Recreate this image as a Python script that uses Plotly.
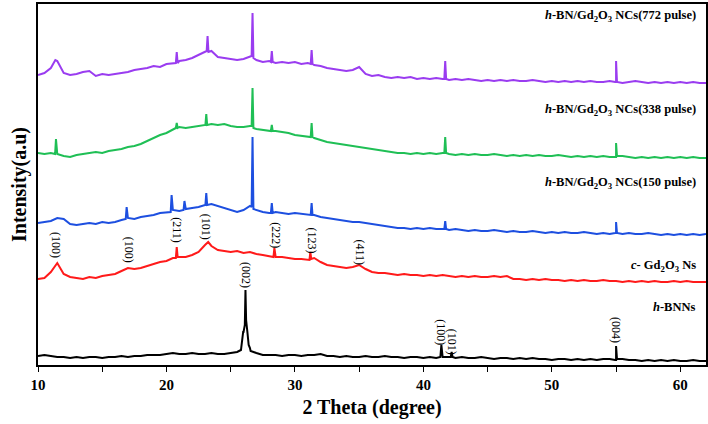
import plotly.graph_objects as go

# ---------------- data (intensity in arbitrary units, offset per pattern) ----------------
two_theta = [10.0, 10.5, 11.0, 11.5, 12.0, 12.5, 13.0, 13.5, 14.0, 14.5,
             15.0, 15.5, 16.0, 16.5, 17.0, 17.5, 18.0, 18.5, 19.0, 19.5,
             20.0, 20.5, 21.0, 21.5, 22.0, 22.5, 23.0, 23.5, 24.0, 24.5,
             25.0, 25.5, 26.0, 26.5, 27.0, 27.5, 28.0, 28.5, 29.0, 29.5,
             30.0, 30.5, 31.0, 31.5, 32.0, 32.5, 33.0, 33.5, 34.0, 34.5,
             35.0, 35.5, 36.0, 36.5, 37.0, 37.5, 38.0, 38.5, 39.0, 39.5,
             40.0, 40.5, 41.0, 41.5, 42.0, 42.5, 43.0, 43.5, 44.0, 44.5,
             45.0, 45.5, 46.0, 46.5, 47.0, 47.5, 48.0, 48.5, 49.0, 49.5,
             50.0, 50.5, 51.0, 51.5, 52.0, 52.5, 53.0, 53.5, 54.0, 54.5,
             55.0, 55.5, 56.0, 56.5, 57.0, 57.5, 58.0, 58.5, 59.0, 59.5,
             60.0, 60.5, 61.0, 61.5, 62.0]

p772 = [290, 292, 297, 304, 292, 290, 291, 293, 294, 289,
        291, 290, 291, 292, 293, 295, 296, 297, 299, 298,
        301, 302, 304, 305, 307, 310, 313, 314, 308, 307,
        306, 305, 306, 309, 305, 303, 304, 302, 303, 302,
        303, 301, 302, 300, 299, 297, 296, 295, 294, 295,
        298, 291, 289, 290, 288, 287, 288, 287, 288, 286,
        287, 286, 287, 286, 285, 286, 285, 286, 285, 284,
        285, 284, 285, 284, 285, 284, 284, 285, 284, 283,
        284, 283, 284, 283, 284, 283, 284, 283, 283, 284,
        283, 282, 283, 284, 283, 282, 283, 282, 283, 282,
        283, 282, 283, 282, 282]
p772_peak_x = [11.35, 20.73, 20.8, 20.87, 23.13, 23.2, 23.27, 26.63, 26.7, 26.77,
               28.13, 28.2, 28.27, 31.23, 31.3, 31.37, 41.63, 41.7, 41.77, 54.93, 55.0, 55.07]
p772_peak_y = [305, 302, 313, 302, 314, 329, 313, 309, 352, 307,
               303, 314, 303, 301, 315, 301, 286, 304, 286, 283, 304, 283]

p338 = [212, 211, 212, 211, 209, 208, 210, 211, 212, 213,
        212, 214, 215, 216, 218, 219, 221, 224, 227, 230,
        232, 236, 238, 237, 238, 239, 240, 241, 240, 241,
        239, 238, 238, 239, 236, 235, 234, 234, 233, 232,
        230, 229, 228, 227, 225, 223, 222, 221, 220, 219,
        218, 217, 216, 215, 214, 213, 212, 212, 211, 212,
        211, 212, 211, 212, 211, 210, 211, 210, 211, 210,
        210, 211, 210, 209, 210, 209, 210, 209, 210, 209,
        209, 210, 209, 208, 209, 208, 209, 208, 209, 208,
        208, 209, 208, 207, 208, 207, 208, 207, 208, 207,
        208, 207, 208, 207, 207]
p338_peak_x = [11.33, 11.4, 11.47, 20.73, 20.8, 20.87, 23.03, 23.1, 23.17, 26.63, 26.7, 26.77,
               28.13, 28.2, 28.27, 31.23, 31.3, 31.37, 41.63, 41.7, 41.77, 54.93, 55.0, 55.07]
p338_peak_y = [211, 226, 211, 237, 242, 237, 240, 251, 240, 239, 277, 237,
               234, 240, 234, 228, 242, 228, 212, 228, 212, 208, 222, 209]

p150 = [142, 143, 144, 147, 146, 141, 140, 141, 142, 141,
        143, 142, 143, 145, 147, 146, 148, 149, 150, 152,
        153, 155, 154, 156, 157, 158, 160, 161, 159, 157,
        155, 153, 155, 159, 155, 153, 152, 153, 152, 151,
        152, 151, 150, 150, 148, 147, 146, 145, 144, 143,
        143, 142, 141, 140, 139, 138, 137, 137, 136, 137,
        136, 137, 136, 136, 135, 136, 135, 134, 135, 134,
        134, 135, 134, 133, 134, 133, 133, 134, 133, 132,
        133, 132, 133, 132, 132, 133, 132, 131, 132, 131,
        132, 131, 132, 131, 131, 132, 131, 130, 131, 130,
        131, 130, 131, 130, 131]
p150_peak_x = [16.83, 16.9, 16.97, 20.33, 20.4, 20.47, 21.33, 21.4, 21.47, 23.03, 23.1, 23.17,
               26.63, 26.7, 26.77, 28.13, 28.2, 28.27, 31.23, 31.3, 31.37,
               41.63, 41.7, 41.77, 54.93, 55.0, 55.07]
p150_peak_y = [146, 158, 147, 153, 170, 155, 155, 164, 156, 160, 172, 160,
               158, 228, 156, 152, 162, 152, 150, 162, 150,
               136, 144, 136, 132, 143, 132]

gd2o3 = [86, 87, 93, 102, 91, 88, 87, 86, 88, 87,
         89, 90, 91, 94, 97, 96, 97, 99, 101, 103,
         104, 107, 108, 108, 110, 113, 120, 119, 115, 114,
         113, 114, 112, 113, 111, 110, 109, 108, 108, 107,
         106, 106, 105, 107, 103, 100, 99, 98, 97, 98,
         100, 96, 93, 92, 92, 91, 90, 91, 90, 90,
         89, 90, 89, 90, 89, 88, 89, 88, 89, 88,
         88, 89, 88, 89, 86, 86, 85, 86, 85, 86,
         85, 85, 84, 85, 84, 85, 84, 84, 85, 84,
         84, 83, 84, 83, 84, 83, 84, 83, 83, 84,
         83, 84, 83, 83, 83]
gd2o3_peak_x = [20.73, 20.8, 20.87, 23.25, 28.33, 28.4, 28.47, 31.13, 31.2, 31.27]
gd2o3_peak_y = [107, 118, 108, 123, 108, 117, 108, 105, 113, 106]

bnns = [9, 10, 9, 8, 8, 7, 8, 7, 8, 8,
        7, 8, 8, 9, 8, 9, 9, 10, 10, 10,
        11, 12, 11, 11, 12, 11, 11, 12, 11, 11,
        12, 13, 33, 17, 12, 10, 10, 10, 9, 10,
        10, 9, 10, 10, 11, 9, 9, 8, 9, 8,
        8, 9, 8, 8, 9, 8, 8, 7, 8, 8,
        7, 8, 7, 8, 8, 7, 8, 7, 7, 8,
        7, 6, 7, 7, 6, 7, 6, 7, 6, 6,
        5, 6, 6, 5, 6, 5, 6, 5, 6, 6,
        5, 6, 5, 5, 4, 5, 4, 5, 4, 5,
        4, 4, 5, 4, 4]
bnns_peak_x = [25.8, 25.9, 25.97, 26.1, 26.15, 26.2, 26.3, 26.4, 26.55,
               41.32, 41.4, 41.48, 42.13, 42.2, 42.27, 54.93, 55.0, 55.07]
bnns_peak_y = [15, 30, 33, 40, 75, 45, 33, 20, 14,
               8, 20, 8, 8, 13, 8, 5, 19, 6]

series = [
    ("h-BNNs", bnns, bnns_peak_x, bnns_peak_y, "#000000"),
    ("c-Gd2O3 Ns", gd2o3, gd2o3_peak_x, gd2o3_peak_y, "#ff1a1a"),
    ("150 pulse", p150, p150_peak_x, p150_peak_y, "#1d4fe0"),
    ("338 pulse", p338, p338_peak_x, p338_peak_y, "#1fbf55"),
    ("772 pulse", p772, p772_peak_x, p772_peak_y, "#9a3cf0"),
]

sample_labels = ["<b><i>h</i>-BN/Gd<sub>2</sub>O<sub>3</sub> NCs(772 pulse)</b>",
                 "<b><i>h</i>-BN/Gd<sub>2</sub>O<sub>3</sub> NCs(338 pulse)</b>",
                 "<b><i>h</i>-BN/Gd<sub>2</sub>O<sub>3</sub> NCs(150 pulse)</b>",
                 "<b><i>c</i>- Gd<sub>2</sub>O<sub>3</sub> Ns</b>",
                 "<b><i>h</i>-BNNs</b>"]
sample_label_y = [349, 255, 182, 99, 58]

hkl_text = ["(100)", "(100)", "(211)", "(101)", "(222)", "(123)", "(411)",
            "(002)", "(100)", "(101)", "(004)"]
hkl_x = [11.4, 17.1, 20.8, 23.1, 28.5, 31.3, 35.1, 26.2, 41.35, 42.25, 55.0]
hkl_y = [120, 115, 135, 138, 130, 125, 112, 90, 33, 23, 35]

# ---------------- figure ----------------
FONT = "Liberation Serif, Times New Roman, serif"
fig = go.Figure()
for name, base, px_, py_, color in series:
    pts = sorted(list(zip(two_theta, base)) + list(zip(px_, py_)))
    fig.add_trace(go.Scatter(x=[p[0] for p in pts], y=[p[1] for p in pts],
                             mode="lines", name=name,
                             line=dict(color=color, width=2)))

for txt, yy in zip(sample_labels, sample_label_y):
    fig.add_annotation(x=61.4, y=yy, xref="x", yref="y", text=txt,
                       showarrow=False, xanchor="right", yanchor="middle",
                       font=dict(family=FONT, size=12.5, color="black"))

for txt, xx, yy in zip(hkl_text, hkl_x, hkl_y):
    fig.add_annotation(x=xx, y=yy, xref="x", yref="y", text=txt, textangle=90,
                       showarrow=False, xanchor="center", yanchor="middle",
                       font=dict(family=FONT, size=12, color="black"))

fig.update_layout(
    width=708, height=424,
    margin=dict(l=38, r=2, t=4, b=59),
    plot_bgcolor="white", paper_bgcolor="white",
    showlegend=False,
    font=dict(family=FONT, color="black"),
)
fig.update_xaxes(
    range=[10, 62], showgrid=False, zeroline=False, automargin=False,
    showline=True, linecolor="black", linewidth=1.5, mirror=True,
    tick0=10, dtick=10, ticks="outside", ticklen=5, tickwidth=1.2, tickcolor="black",
    minor=dict(dtick=5, ticks="outside", ticklen=5, tickwidth=1.2, tickcolor="black"),
    tickfont=dict(family=FONT, size=15, weight="bold", color="black"),
    title=dict(text="<b>2 Theta (degree)</b>", font=dict(family=FONT, size=20, color="black"),
               standoff=8),
)
fig.update_yaxes(
    range=[0, 361], showgrid=False, zeroline=False, showticklabels=False, ticks="",
    automargin=False,
    showline=True, linecolor="black", linewidth=1.5, mirror=True,
    title=dict(text="<b>Intensity(a.u)</b>", font=dict(family=FONT, size=20, color="black"),
               standoff=4),
)

fig.write_html("out.html", config={"displayModeBar": False},
               post_script="document.body.style.margin='0px';document.body.style.overflow='hidden';")
